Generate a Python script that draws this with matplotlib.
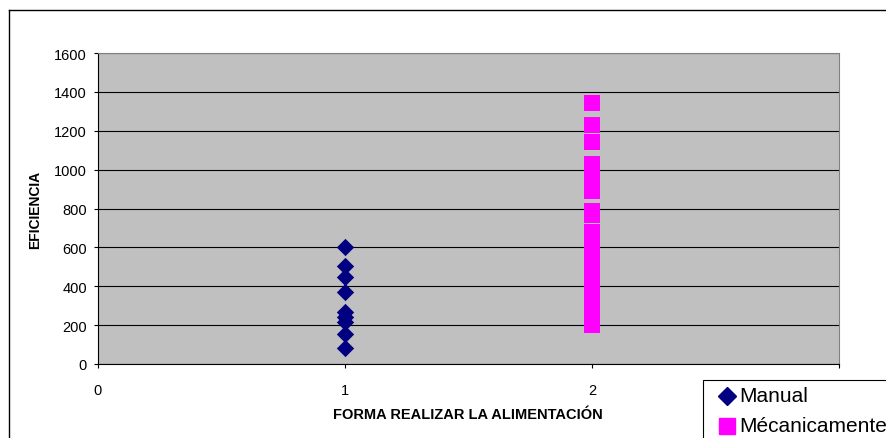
import matplotlib.pyplot as plt
from matplotlib.lines import Line2D
from matplotlib.patches import Rectangle

# Eficiencia por forma de alimentación
manual_x = [1, 1, 1, 1, 1, 1, 1, 1, 1]
manual_y = [603, 506, 446, 369, 269, 240, 214, 154, 81]

mecanica_y = [1343, 1232, 1143, 1028, 990, 955, 920, 889, 787, 769,
              680, 650, 620, 590, 560, 530, 500, 470, 440, 410,
              380, 350, 320, 290, 260, 230, 200]
mecanica_x = [2] * len(mecanica_y)

series_names = ['Manual', 'Mécanicamente']
series_colors = ['#000080', '#FF00FF']
series_markers = ['D', 's']

plt.rcParams['font.family'] = ['Liberation Sans', 'DejaVu Sans']

W, H = 887, 439
fig = plt.figure(figsize=(W / 100, H / 100), dpi=100)

# marco exterior (solo borde superior e izquierdo quedan a la vista)
fig.add_artist(Line2D([9 / W, 1.0], [1 - 11 / H, 1 - 11 / H],
                      transform=fig.transFigure, color='black', lw=1.0))
fig.add_artist(Line2D([9 / W, 9 / W], [0.0, 1 - 11 / H],
                      transform=fig.transFigure, color='black', lw=1.0))

ax = fig.add_axes([98 / W, 1 - 365 / H, (839 - 98) / W, (365 - 54) / H])
ax.set_facecolor('#C0C0C0')

ax.scatter(manual_x, manual_y, marker=series_markers[0], s=78,
           color=series_colors[0], zorder=3, linewidths=0)
ax.scatter(mecanica_x, mecanica_y, marker=series_markers[1], s=125,
           color=series_colors[1], zorder=3, linewidths=0)

ax.set_xlim(0, 3)
ax.set_ylim(0, 1600)
ax.set_xticks([0, 1, 2, 3])
ax.set_xticklabels(['0', '1', '2', ''])
ax.set_yticks(range(0, 1601, 200))
ax.yaxis.grid(True, color='black', linewidth=0.8)
ax.set_axisbelow(True)

for side in ['top', 'right']:
    ax.spines[side].set_color('#808080')
ax.spines['left'].set_color('black')
ax.spines['bottom'].set_color('black')
ax.tick_params(axis='both', labelsize=10.5, length=3, direction='out', width=0.8)
ax.tick_params(axis='x', pad=11)
ax.tick_params(axis='y', pad=5)

fig.text(468 / W, 1 - 415 / H, 'FORMA REALIZAR LA ALIMENTACIÓN',
         fontsize=10.5, fontweight='bold', ha='center', va='center')
fig.text(35 / W, 1 - 210 / H, 'EFICIENCIA', fontsize=10, fontweight='bold',
         rotation=90, ha='center', va='center')

# leyenda: caja cortada por el borde de la figura
fig.patches.append(Rectangle((703 / W, -0.2), 0.5, 0.2 + 1 - 381 / H,
                             transform=fig.transFigure, fill=True,
                             facecolor='white', edgecolor='black', lw=0.8))
legend_rows = [397, 427]
for name, color, marker, row in zip(series_names, series_colors,
                                    series_markers, legend_rows):
    fig.add_artist(Line2D([727 / W], [1 - row / H], transform=fig.transFigure,
                          marker=marker, markersize=12 if marker == 's' else 9,
                          color=color, linestyle='none'))
    fig.text(739 / W, 1 - row / H, name, fontsize=15, ha='left', va='center')

fig.savefig('out.png', dpi=100)
